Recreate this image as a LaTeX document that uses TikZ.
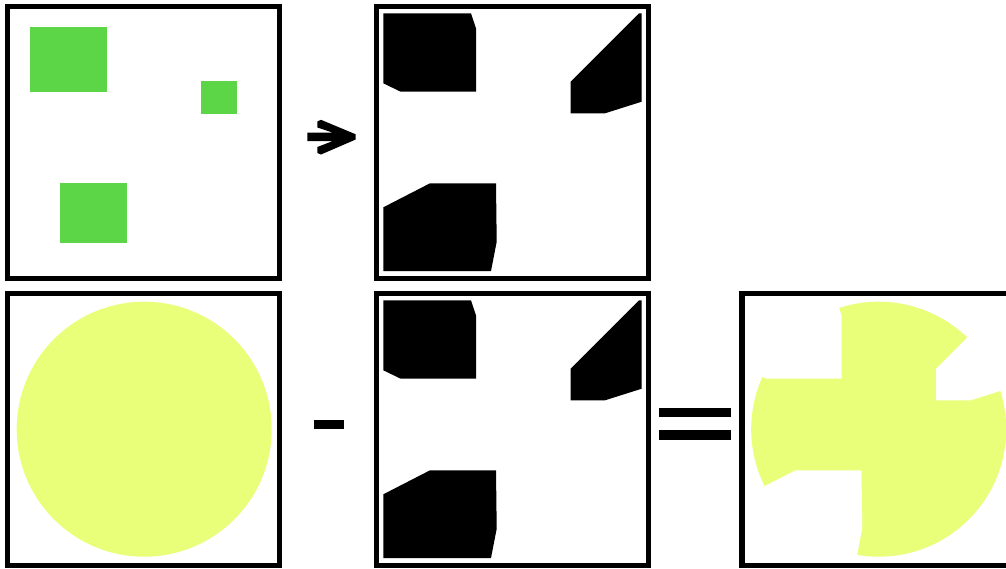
\documentclass[tikz,border=0pt]{standalone}
\definecolor{grn}{RGB}{92,214,70}
\definecolor{ylw}{RGB}{233,255,122}
\tikzset{
  frame/.style={draw=black, line width=5.3pt},
  blob/.style={fill=black},
  hole/.style={fill=white},
  sym/.style={fill=black},
}
\begin{document}
\begin{tikzpicture}[x=1pt,y=-1pt]
\useasboundingbox (0,0) rectangle (1006,568);
\clip (0,0) rectangle (1006,568);
% ---------- panel 1: green squares ----------
\fill[grn] (30,27.3) rectangle (107.3,92.3);
\fill[grn] (201,81) rectangle (236.7,114);
\fill[grn] (60.3,183) rectangle (127.3,243.3);
\draw[frame] (7.5,6.7) rectangle (279.5,278.3);
% ---------- arrow ----------
\fill[sym] (307.3,132.7) -- (333,132.7) -- (317.3,127.5) -- (317.3,121.5) -- (321,119.8)
  -- (355.7,134.3) -- (355.7,139.5) -- (321,154.5) -- (317.3,153) -- (317.3,147)
  -- (333,141) -- (307.3,141) -- cycle;
% ---------- panel 2 (top and bottom): black shapes ----------
\foreach \dy in {0,287}{
  \begin{scope}[yshift=-\dy pt]
    \fill[blob] (383.3,13.3) -- (471,13.3) -- (476,28.3) -- (476,91.7) -- (400.7,91.7) -- (383.3,83.3) -- cycle;
    \fill[blob] (639,13.3) -- (641.7,13.3) -- (641.7,101.7) -- (605,113.3) -- (570.7,113.3) -- (570.7,81.7) -- cycle;
    \fill[blob] (383.3,207.3) -- (430,183.3) -- (496,183.3) -- (496.7,241.7) -- (491,271) -- (383.3,271) -- cycle;
    \draw[frame] (376.5,6.5) rectangle (648.5,278.3);
  \end{scope}
}
% ---------- panel 4: circle ----------
\fill[ylw] (144.2,429.2) circle[radius=127.5];
\draw[frame] (7.5,293.7) rectangle (279.5,565.3);
% ---------- minus ----------
\fill[sym] (314,420) rectangle (344.3,429.3);
% ---------- equals ----------
\fill[sym] (659.3,408) rectangle (730.7,417.3);
\fill[sym] (659.3,430) rectangle (730.7,440);
% ---------- panel 6: circle minus shapes ----------
\fill[ylw] (878.7,429.2) circle[radius=127.5];
\begin{scope}[xshift=365.5pt, yshift=-287pt]
  \fill[hole] (383.3,13.3) -- (471,13.3) -- (476,28.3) -- (476,91.7) -- (400.7,91.7) -- (383.3,83.3) -- cycle;
  \fill[hole] (639,13.3) -- (641.7,13.3) -- (641.7,101.7) -- (605,113.3) -- (570.7,113.3) -- (570.7,81.7) -- cycle;
  \fill[hole] (383.3,207.3) -- (430,183.3) -- (496,183.3) -- (496.7,241.7) -- (491,271) -- (383.3,271) -- cycle;
\end{scope}
\draw[frame] (742,293.7) rectangle (1014,565.3);
\end{tikzpicture}
\end{document}
